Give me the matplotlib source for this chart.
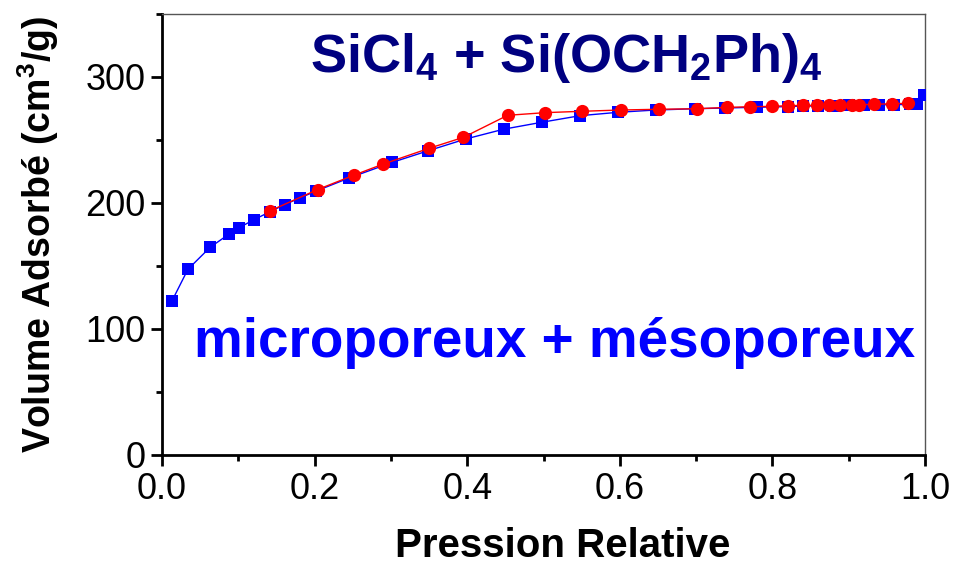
import matplotlib
matplotlib.use("Agg")
import matplotlib.pyplot as plt
from matplotlib.ticker import MultipleLocator

plt.rcParams['font.family'] = ['Liberation Sans', 'DejaVu Sans']
plt.rcParams['mathtext.fontset'] = 'custom'
plt.rcParams['mathtext.rm'] = 'Liberation Sans:bold'
plt.rcParams['mathtext.bf'] = 'Liberation Sans:bold'
plt.rcParams['mathtext.it'] = 'Liberation Sans:bold'
plt.rcParams['mathtext.sf'] = 'Liberation Sans:bold'
plt.rcParams['mathtext.default'] = 'rm'

# Adsorption branch (squares)
ads_p = [0.013, 0.034, 0.063, 0.088, 0.101, 0.121, 0.141, 0.161, 0.181, 0.202,
         0.245, 0.302, 0.349, 0.398, 0.448, 0.498, 0.548, 0.598, 0.647, 0.698,
         0.738, 0.78, 0.82, 0.84, 0.86, 0.88, 0.90, 0.92, 0.94, 0.96, 0.98,
         0.99, 0.999]
ads_v = [122.2, 147.4, 164.8, 175.4, 180.4, 186.9, 192.9, 198.8, 204.1, 209.5,
         219.8, 232.3, 241.5, 250.8, 258.6, 264.1, 269.3, 272.0, 273.8, 274.8,
         275.4, 276.0, 276.5, 277.0, 277.0, 277.2, 277.5, 277.5, 278.0, 278.0,
         278.3, 278.6, 285.7]

# Desorption branch (circles)
des_p = [0.142, 0.204, 0.252, 0.289, 0.350, 0.395, 0.453, 0.502, 0.551, 0.601,
         0.652, 0.701, 0.741, 0.770, 0.799, 0.820, 0.840, 0.859, 0.874, 0.889,
         0.904, 0.914, 0.933, 0.957, 0.978]
des_v = [193.9, 210.7, 222.2, 230.7, 243.4, 252.1, 269.6, 271.7, 272.8, 273.8,
         274.4, 274.8, 275.9, 276.4, 276.7, 277.2, 277.5, 277.5, 277.8, 277.8,
         277.8, 278.0, 278.3, 278.8, 279.1]

fig = plt.figure(figsize=(9.57, 5.63), dpi=100)
ax = fig.add_axes([162/957, 1-455/563, (925-162)/957, (455-14)/563])

ax.plot(ads_p, ads_v, color='#0000FF', lw=1.0, marker='s', ms=8,
        markeredgewidth=0, zorder=3)
ax.plot(des_p, des_v, color='#FF0000', lw=1.0, marker='o', ms=9.5,
        markeredgewidth=0, zorder=4)

ax.set_xlim(0, 1.0)
ax.set_ylim(0, 350)
ax.xaxis.set_major_locator(MultipleLocator(0.2))
ax.xaxis.set_minor_locator(MultipleLocator(0.1))
ax.yaxis.set_major_locator(MultipleLocator(100))
ax.yaxis.set_minor_locator(MultipleLocator(50))
ax.xaxis.set_major_formatter(plt.FuncFormatter(lambda v, p: f"{v:.1f}"))

for s in ['left', 'bottom']:
    ax.spines[s].set_linewidth(2.0)
    ax.spines[s].set_color('black')
for s in ['top', 'right']:
    ax.spines[s].set_linewidth(1.0)
    ax.spines[s].set_color('#555555')

ax.tick_params(which='major', direction='out', length=8, width=2,
               labelsize=26, pad=4, top=False, right=False)
ax.tick_params(which='minor', direction='out', length=4, width=2,
               top=False, right=False)

ax.set_xlabel('Pression Relative', fontsize=29, fontweight='bold')
ax.xaxis.set_label_coords(0.525, -0.163)
ax.set_ylabel(r'Volume Adsorbé (cm$^3$/g)', fontsize=27, fontweight='bold')
ax.yaxis.set_label_coords(-0.132, 0.5)

ax.text(0.53, 0.90, r'SiCl$_4$ + Si(OCH$_2$Ph)$_4$', transform=ax.transAxes,
        ha='center', va='center', fontsize=39, fontweight='bold', color='#000080')
ax.text(0.515, 0.255, 'microporeux + mésoporeux', transform=ax.transAxes,
        ha='center', va='center', fontsize=39.5, fontweight='bold', color='#0000FF')

fig.savefig('out.png', dpi=100)
